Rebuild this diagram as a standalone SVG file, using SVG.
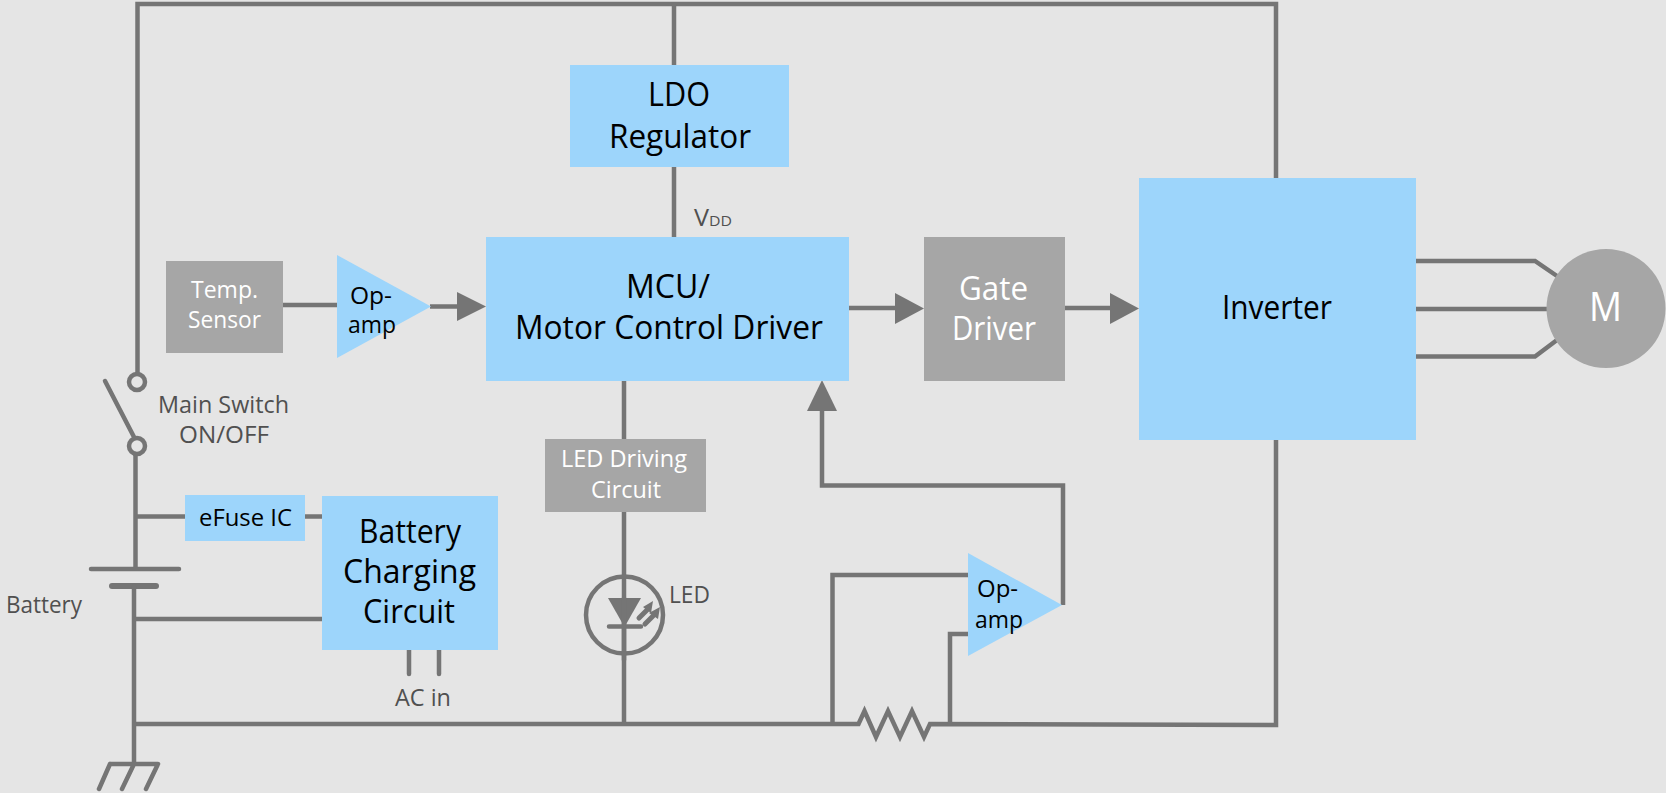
<svg xmlns="http://www.w3.org/2000/svg" width="1666" height="793" viewBox="0 0 1666 793">
<style>
text{font-family:"Open Sans","Noto Sans","Liberation Sans",sans-serif}
.w{fill:none;stroke:#757575;stroke-width:4.500;stroke-linejoin:miter}
.h{fill:#757575}
.b{fill:#9dd5fb}
.g{fill:#a6a6a6}
.big{font-size:33px;fill:#000}
.mid{font-size:24px;fill:#000}
.wt{font-size:24px;fill:#fff}
.lb{font-size:23.500px;fill:#505050}
</style>
<rect width="1666" height="793" fill="#e5e5e5"/>
<g id="connectors">
<path class="w" d="M137.500 374V4H1276V178M1276 440V725L930 724L924 737L912 711L900 737L888 711L876 737L864.500 711L858.500 724H134"/>
<path class="w" d="M674 4V65M674 167V237"/>
<path class="w" d="M105 381L134 437" stroke-linecap="round"/>
<circle class="w" cx="137" cy="382" r="8"/>
<circle class="w" cx="137" cy="446" r="8"/>
<path class="w" d="M135.500 454V569M91 569H179" stroke-linecap="round"/>
<path class="w" d="M112 586H156" style="stroke-width:6" stroke-linecap="round"/>
<path class="w" d="M134 586V764M110 764H158M110 764L99 789M134 764L122 789M158 764L146 789" stroke-linecap="round"/>
<path class="w" d="M136 516.500H185M305 516.500H322M134 619H322"/>
<path class="w" d="M409 650V674M439 650V674" stroke-linecap="round"/>
<path class="w" d="M283 305H337M430 306.500H458"/>
<path class="h" d="M457 292L486 306.500L457 321Z"/>
<path class="w" d="M849 308H896M1065 308H1112"/>
<path class="h" d="M895 293L924 308.500L895 324Z"/>
<path class="h" d="M1110 293L1139 308.500L1110 324Z"/>
<path class="w" d="M1063 605V485.500H822V410"/>
<path class="h" d="M807 411L822 380L837 411Z"/>
<path class="w" d="M624 381V439M624 512V724"/>
<path class="w" d="M832.500 724V575H968M950 724V634H968"/>
<path class="w" d="M1416 261H1535L1557 276M1416 309H1550M1416 356.500H1535L1557 340"/>
</g>
<g id="led">
<circle class="w" cx="624.500" cy="615" r="38.500"/>
<path class="h" d="M608 598H641L624.500 627Z"/>
<path class="w" d="M609 626.500H641M624 598V660" stroke-linecap="round"/>
<path class="w" d="M639 618L647 610M645 624L653 616" stroke-linecap="round" style="stroke-width:5"/>
<path class="h" d="M643 607L653 601L651 613ZM649 613L660 607L658 619Z"/>
<text class="lb" x="669" y="603" textLength="41" lengthAdjust="spacingAndGlyphs">LED</text>
</g>
<g id="resistor-labels">
<text class="lb" x="158" y="413" textLength="131" lengthAdjust="spacingAndGlyphs">Main Switch</text>
<text class="lb" x="179" y="443" textLength="90" lengthAdjust="spacingAndGlyphs">ON/OFF</text>
<text class="lb" x="6" y="613" textLength="76" lengthAdjust="spacingAndGlyphs">Battery</text>
<text class="lb" x="395" y="706" textLength="56" lengthAdjust="spacingAndGlyphs">AC in</text>
<text class="lb" x="694" y="226" textLength="15" lengthAdjust="spacingAndGlyphs">V</text>
<text class="lb" x="709" y="226" style="font-size:15px" textLength="23" lengthAdjust="spacingAndGlyphs">DD</text>
</g>
<g id="ldo"><rect class="b" x="570" y="65" width="219" height="102"/>
<text class="big" x="648" y="106" textLength="62" lengthAdjust="spacingAndGlyphs">LDO</text><text class="big" x="609" y="148" textLength="142" lengthAdjust="spacingAndGlyphs">Regulator</text></g>
<g id="temp-sensor"><rect class="g" x="166" y="261" width="117" height="92"/>
<text class="wt" x="191" y="298" textLength="67" lengthAdjust="spacingAndGlyphs">Temp.</text><text class="wt" x="188" y="328" textLength="73" lengthAdjust="spacingAndGlyphs">Sensor</text></g>
<g id="opamp-1"><path class="b" d="M337 255L431 306.500L337 358Z"/>
<text class="mid" x="350" y="304" textLength="42" lengthAdjust="spacingAndGlyphs">Op-</text><text class="mid" x="348" y="333" textLength="48" lengthAdjust="spacingAndGlyphs">amp</text></g>
<g id="mcu"><rect class="b" x="486" y="237" width="363" height="144"/>
<text class="big" x="626" y="298" textLength="84" lengthAdjust="spacingAndGlyphs">MCU/</text><text class="big" x="515" y="339" textLength="308" lengthAdjust="spacingAndGlyphs">Motor Control Driver</text></g>
<g id="gate-driver"><rect class="g" x="924" y="237" width="141" height="144"/>
<text class="big" x="959" y="300" textLength="69" lengthAdjust="spacingAndGlyphs" style="fill:#fff">Gate</text><text class="big" x="952" y="340" textLength="84" lengthAdjust="spacingAndGlyphs" style="fill:#fff">Driver</text></g>
<g id="inverter"><rect class="b" x="1139" y="178" width="277" height="262"/>
<text class="big" x="1222" y="319" textLength="110" lengthAdjust="spacingAndGlyphs">Inverter</text></g>
<g id="motor"><circle class="g" cx="1606" cy="308.500" r="59.500"/>
<text x="1589" y="321" textLength="33" lengthAdjust="spacingAndGlyphs" style="font-size:41px;fill:#fff">M</text></g>
<g id="led-driving"><rect class="g" x="545" y="439" width="161" height="73"/>
<text class="wt" x="561" y="467" textLength="126" lengthAdjust="spacingAndGlyphs">LED Driving</text><text class="wt" x="591" y="498" textLength="70" lengthAdjust="spacingAndGlyphs">Circuit</text></g>
<g id="efuse"><rect class="b" x="185" y="495" width="120" height="46"/>
<text class="mid" x="199" y="526" textLength="93" lengthAdjust="spacingAndGlyphs">eFuse IC</text></g>
<g id="battery-charging"><rect class="b" x="322" y="496" width="176" height="154"/>
<text class="big" x="359" y="543" textLength="102" lengthAdjust="spacingAndGlyphs">Battery</text><text class="big" x="343" y="583" textLength="133" lengthAdjust="spacingAndGlyphs">Charging</text><text class="big" x="363" y="623" textLength="92" lengthAdjust="spacingAndGlyphs">Circuit</text></g>
<g id="opamp-2"><path class="b" d="M968 553L1062 605L968 656Z"/>
<text class="mid" x="977" y="597" textLength="41" lengthAdjust="spacingAndGlyphs">Op-</text><text class="mid" x="975" y="628" textLength="48" lengthAdjust="spacingAndGlyphs">amp</text></g>
</svg>
